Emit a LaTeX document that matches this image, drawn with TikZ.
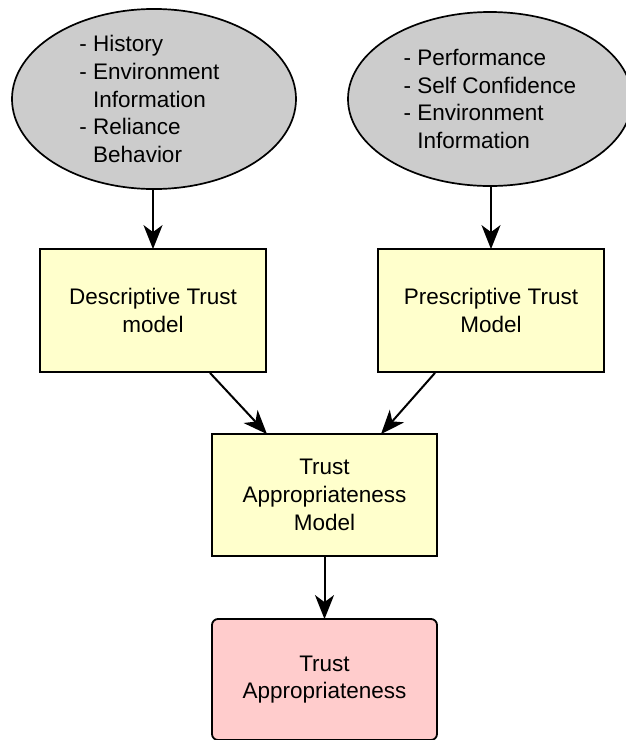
\documentclass[tikz,border=0pt]{standalone}
\usepackage{fontspec}
\setmainfont{Liberation Sans}
\usetikzlibrary{shapes.geometric,arrows.meta}
\definecolor{ellgray}{HTML}{CCCCCC}
\definecolor{boxyellow}{HTML}{FFFFCC}
\definecolor{boxpink}{HTML}{FFCCCC}
\tikzset{
  txt/.style={font=\fontsize{22.5}{27.7}\selectfont},
  ellnode/.style={draw=black, line width=1.7pt, fill=ellgray, ellipse, minimum width=284pt, minimum height=174pt, inner sep=0pt, txt, align=left},
  ybox/.style={draw=black, line width=1.8pt, fill=boxyellow, minimum width=226pt, minimum height=123pt, inner sep=0pt, txt, align=center},
  pbox/.style={draw=black, line width=1.8pt, fill=boxpink, rounded corners=6pt, minimum width=225pt, minimum height=121pt, inner sep=0pt, txt, align=center},
  arr/.style={line width=2pt, -{Stealth[length=24pt,width=19pt,inset=7pt]}}
}
\begin{document}
\begin{tikzpicture}[x=1pt,y=-1pt]
\useasboundingbox (0,0) rectangle (625,740);
\node[ellnode] (e1) at (154,99) {- History\\- Environment\rule{9pt}{0pt}\\\hphantom{- }Information\\- Reliance\\\hphantom{- }Behavior};
\node[ellnode] (e2) at (490,99) {- Performance\\- Self Confidence\\- Environment\\\hphantom{- }Information};
\node[ybox] (b1) at (153,310.5) {Descriptive Trust\\model};
\node[ybox] (b2) at (491,310.5) {Prescriptive Trust\\Model};
\node[ybox, minimum width=225pt, minimum height=122pt] (b3) at (324.5,495) {Trust\\Appropriateness\\Model};
\node[pbox] (b4) at (324.5,679.5) {Trust\\Appropriateness};
\draw[arr] (e1.south -| b1.north) -- ([yshift=-1pt]b1.north);
\draw[arr] (e2.south -| b2.north) -- ([yshift=-1pt]b2.north);
\draw[arr] ([xshift=57pt]b1.south) -- ([xshift=-57.5pt,yshift=-1pt]b3.north);
\draw[arr] ([xshift=-56pt]b2.south) -- ([xshift=56.5pt,yshift=-1pt]b3.north);
\draw[arr] (b3.south) -- ([yshift=-1pt]b4.north);
\end{tikzpicture}
\end{document}
